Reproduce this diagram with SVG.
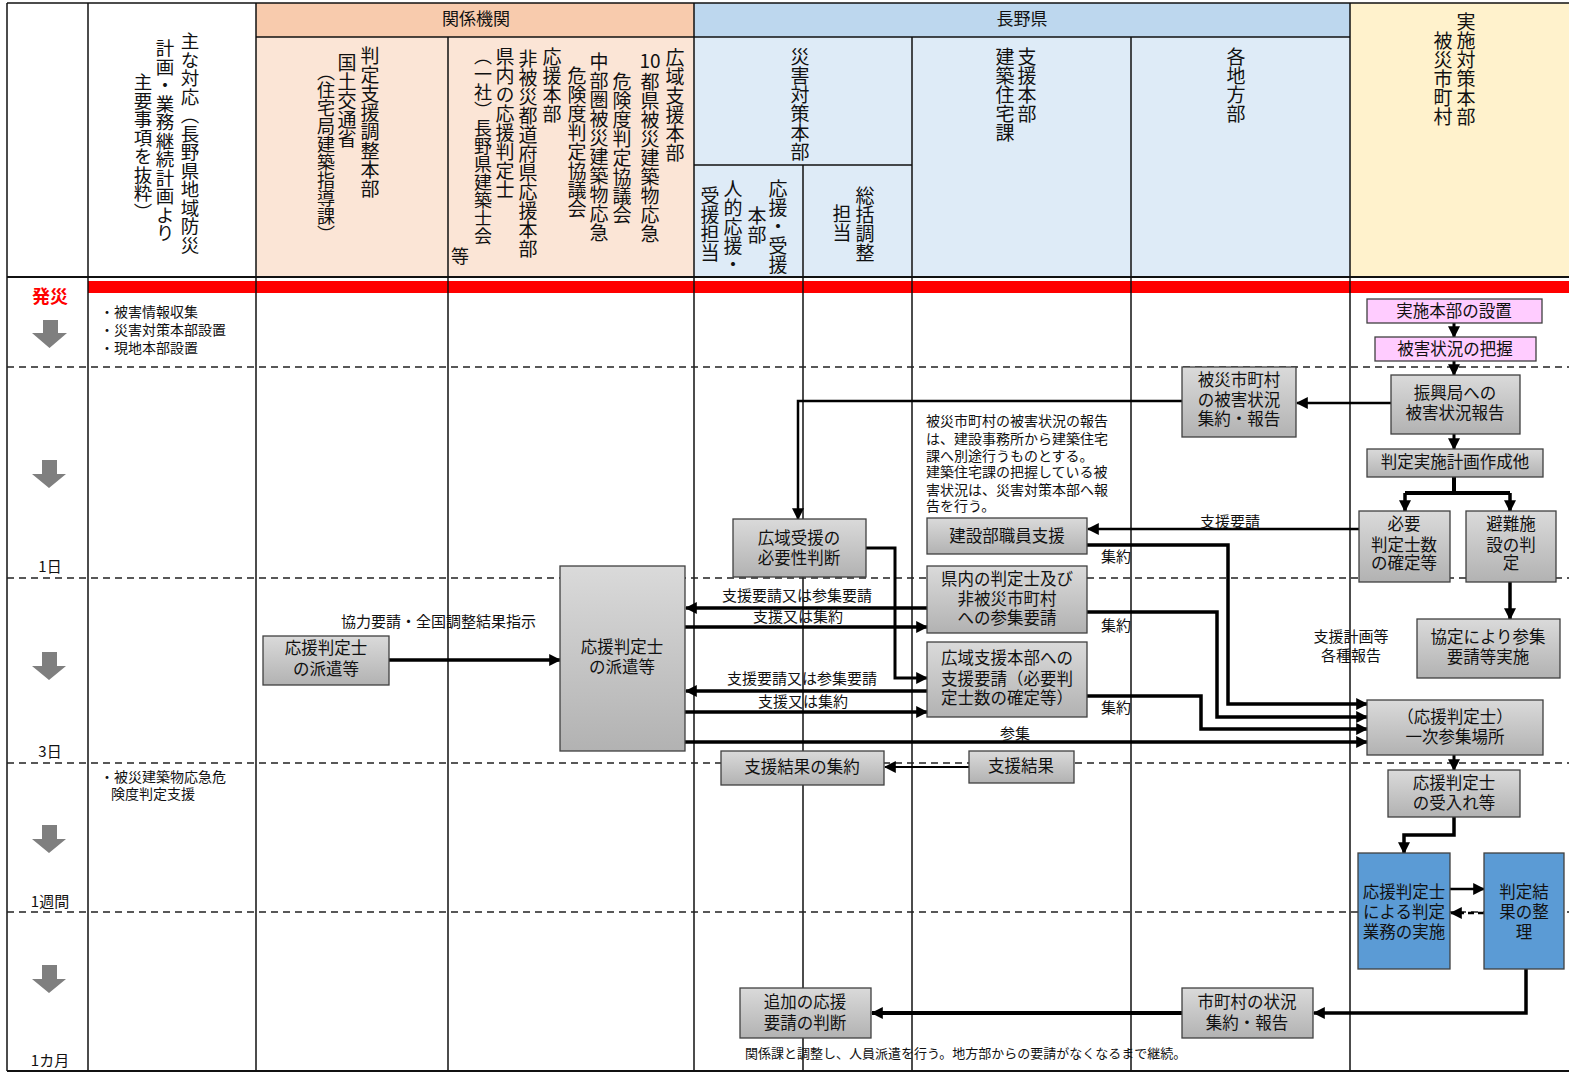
<svg xmlns="http://www.w3.org/2000/svg" width="1569" height="1073" viewBox="0 0 1569 1073">
<defs>
<linearGradient id="gray" x1="0" y1="0" x2="0" y2="1">
<stop offset="0" stop-color="#dadada"/>
<stop offset="1" stop-color="#b2b2b2"/>
</linearGradient>
<marker id="ah" markerUnits="userSpaceOnUse" markerWidth="12" markerHeight="12" viewBox="0 0 10 10" refX="9" refY="5" orient="auto">
<path d="M0,0 L10,5 L0,10 z" fill="#000"/>
</marker>
<marker id="dn" markerUnits="userSpaceOnUse" markerWidth="1" markerHeight="1" viewBox="0 0 1 1" refX="0" refY="0"><path d="M0,0"/></marker>
<style>
text{font-family:"Noto Sans CJK JP","Noto Sans",sans-serif;fill:#111}
.v{writing-mode:vertical-rl;font-size:19px}
.hd{font-size:17px;text-anchor:middle}
.bx{fill:url(#gray);stroke:#404040;stroke-width:1.3}
.pk{fill:#ffccff;stroke:#404040;stroke-width:1.3}
.bl{fill:#5b9bd5;stroke:#404040;stroke-width:1.3}
.nt{font-size:16.5px;text-anchor:middle}
.lb{font-size:15px}
.sm{font-size:14px}
.gl{stroke:#111;stroke-width:1.5}
.dl{stroke:#222;stroke-width:1.5;stroke-dasharray:7 5}
.c{fill:none;stroke:#000;stroke-width:3.5}
.a{marker-end:url(#ah)}
.tg{fill:#7f7f7f}
</style>
</defs>

<!-- background and header cells -->
<rect x="0" y="0" width="1569" height="1073" fill="#fff"/>
<g id="header-fills">
<rect x="256" y="3" width="438" height="34" fill="#f8cbad"/>
<rect x="256" y="37" width="438" height="240" fill="#fbe5d6"/>
<rect x="694" y="3" width="656" height="34" fill="#bdd7ee"/>
<rect x="694" y="37" width="656" height="240" fill="#deebf7"/>
<rect x="1350" y="3" width="219" height="274" fill="#fff2cc"/>
</g>

<!-- red band marking the disaster onset -->
<rect x="88" y="281" width="1481" height="12" fill="#ff0000"/>

<!-- grid -->
<g id="grid">
<line class="gl" x1="7" y1="3" x2="1569" y2="3"/>
<line class="gl" x1="256" y1="37" x2="1350" y2="37"/>
<line class="gl" x1="694" y1="165" x2="912" y2="165"/>
<line x1="7" y1="277" x2="1569" y2="277" stroke="#111" stroke-width="2.2"/>
<line x1="7" y1="1071" x2="1569" y2="1071" stroke="#111" stroke-width="2.2"/>
<line class="gl" x1="7" y1="3" x2="7" y2="1071"/>
<line class="gl" x1="88" y1="3" x2="88" y2="1071"/>
<line class="gl" x1="256" y1="3" x2="256" y2="1071"/>
<line class="gl" x1="448" y1="37" x2="448" y2="1071"/>
<line class="gl" x1="694" y1="3" x2="694" y2="1071"/>
<line class="gl" x1="803" y1="165" x2="803" y2="1071"/>
<line class="gl" x1="912" y1="37" x2="912" y2="1071"/>
<line class="gl" x1="1131" y1="37" x2="1131" y2="1071"/>
<line class="gl" x1="1350" y1="3" x2="1350" y2="1071"/>
<line class="dl" x1="7" y1="367" x2="1569" y2="367"/>
<line class="dl" x1="7" y1="578" x2="1569" y2="578"/>
<line class="dl" x1="7" y1="763" x2="1569" y2="763"/>
<line class="dl" x1="7" y1="912" x2="1569" y2="912"/>
</g>

<!-- header labels -->
<g id="header-text">
<text class="hd" x="476" y="25">関係機関</text>
<text class="hd" x="1022" y="25">長野県</text>
<text class="v" x="190" y="32" style="font-size:18.5px">主な対応（長野県地域防災</text>
<text class="v" x="165" y="39" style="font-size:18.5px">計画・業務継続計画より</text>
<text class="v" x="143" y="73" style="font-size:18.5px">主要事項を抜粋）</text>
<text class="v" x="370" y="46">判定支援調整本部</text>
<text class="v" x="347" y="53">国土交通省</text>
<text class="v" x="326" y="63" style="font-size:18px">（住宅局建築指導課）</text>
<text class="v" x="675" y="48">広域支援本部</text>
<text x="650" y="68" style="font-size:19px;text-anchor:middle">10</text>
<text class="v" x="650" y="72">都県被災建築物応急</text>
<text class="v" x="622" y="72">危険度判定協議会</text>
<text class="v" x="599" y="52">中部圏被災建築物応急</text>
<text class="v" x="577" y="66">危険度判定協議会</text>
<text class="v" x="552" y="47">応援本部</text>
<text class="v" x="528" y="49">非被災都道府県応援本部</text>
<text class="v" x="505" y="47">県内の応援判定士</text>
<text class="v" x="483" y="47" style="font-size:18px">（一社）長野県建築士会</text>
<text x="460" y="263" style="font-size:18px;text-anchor:middle">等</text>
<text class="v" x="800" y="47">災害対策本部</text>
<text class="v" x="778" y="179">応援・受援</text>
<text class="v" x="757" y="206">本部</text>
<text class="v" x="733" y="179">人的応援・</text>
<text class="v" x="710" y="186">受援担当</text>
<text class="v" x="865" y="186">総括調整</text>
<text class="v" x="842" y="204">担当</text>
<text class="v" x="1027" y="47">支援本部</text>
<text class="v" x="1005" y="47">建築住宅課</text>
<text class="v" x="1236" y="47">各地方部</text>
<text class="v" x="1466" y="12">実施対策本部</text>
<text class="v" x="1443" y="31">被災市町村</text>
</g>

<!-- time axis -->
<g id="timeline">
<text x="50" y="303" style="font-size:18px;font-weight:bold;fill:#ff0000;text-anchor:middle">発災</text>
<path class="tg" d="M43,320 H58 V333 H67 L49.5,348 L32,333 H43 Z"/>
<path class="tg" d="M42,460 H57 V474 H66 L49,488 L32,474 H42 Z"/>
<path class="tg" d="M42,652 H57 V666 H66 L49,680 L32,666 H42 Z"/>
<path class="tg" d="M42,825 H57 V839 H66 L49,853 L32,839 H42 Z"/>
<path class="tg" d="M42,965 H57 V979 H66 L49,993 L32,979 H42 Z"/>
<text class="lb" x="50" y="572" text-anchor="middle">1日</text>
<text class="lb" x="50" y="757" text-anchor="middle">3日</text>
<text class="lb" x="50" y="907" text-anchor="middle">1週間</text>
<text class="lb" x="50" y="1066" text-anchor="middle">1カ月</text>
</g>

<!-- main tasks column -->
<g id="main-tasks">
<text class="sm" x="100" y="317">・被害情報収集</text>
<text class="sm" x="100" y="335">・災害対策本部設置</text>
<text class="sm" x="100" y="353">・現地本部設置</text>
<text class="sm" x="100" y="782">・被災建築物応急危</text>
<text class="sm" x="111" y="799">険度判定支援</text>
</g>

<!-- connectors -->
<g id="connectors">
<path class="c a" d="M1454,323 V337" style="stroke-width:3"/>
<path class="c a" d="M1454,361 V375" style="stroke-width:3"/>
<path class="c a" d="M1391,403 H1297" style="stroke-width:2.5"/>
<path class="c a" d="M1182,401 H798 V519" style="stroke-width:2.5"/>
<path class="c a" d="M1454,434 V449" style="stroke-width:3"/>
<path class="c" d="M1454,477 V493 M1405,493 H1510" style="stroke-width:4"/>
<path class="c a" d="M1405,493 V511" style="stroke-width:3.5"/>
<path class="c a" d="M1510,493 V511" style="stroke-width:3.5"/>
<path class="c a" d="M1359,529 H1088" style="stroke-width:2.5"/>
<path class="c a" d="M1510,582 V619"/>
<path class="c a" d="M1087,545 H1228 V704 H1367"/>
<path class="c a" d="M1087,612 H1217 V717 H1367"/>
<path class="c a" d="M1087,696 H1201 V729 H1367"/>
<path class="c a" d="M685,742 H1367"/>
<path class="c a" d="M927,608 H686"/>
<path class="c a" d="M685,627 H927"/>
<path class="c a" d="M927,691 H686"/>
<path class="c a" d="M685,712 H927"/>
<path class="c a" d="M866,548 H895 V678 H927" style="stroke-width:3"/>
<path class="c a" d="M969,767 H885" style="stroke-width:2"/>
<path class="c a" d="M389,660 H560"/>
<path class="c a" d="M1454,755 V770" style="stroke-width:3"/>
<path class="c a" d="M1454,817 V835 H1404 V853"/>
<path class="c a" d="M1450,889 H1484" style="stroke-width:2.5"/>
<path class="c a" d="M1484,913 H1451" style="stroke-width:2.5;stroke-dasharray:6 4"/>
<path class="c a" d="M1526,969 V1013 H1314"/>
<path class="c a" d="M1182,1013 H872" style="stroke-width:4"/>
</g>

<!-- connector labels and notes -->
<g id="labels">
<text class="lb" x="341" y="627">協力要請・全国調整結果指示</text>
<text class="lb" x="722" y="601">支援要請又は参集要請</text>
<text class="lb" x="753" y="622">支援又は集約</text>
<text class="lb" x="727" y="684">支援要請又は参集要請</text>
<text class="lb" x="758" y="707">支援又は集約</text>
<text class="lb" x="1000" y="739">参集</text>
<text class="lb" x="1101" y="562">集約</text>
<text class="lb" x="1101" y="631">集約</text>
<text class="lb" x="1101" y="713">集約</text>
<text class="lb" x="1200" y="527">支援要請</text>
<text class="lb" x="1351" y="642" text-anchor="middle">支援計画等</text>
<text class="lb" x="1351" y="661" text-anchor="middle">各種報告</text>
<g class="sm">
<text class="sm" x="926" y="426">被災市町村の被害状況の報告</text>
<text class="sm" x="926" y="444">は、建設事務所から建築住宅</text>
<text class="sm" x="926" y="461">課へ別途行うものとする。</text>
<text class="sm" x="926" y="477">建築住宅課の把握している被</text>
<text class="sm" x="926" y="495">害状況は、災害対策本部へ報</text>
<text class="sm" x="926" y="511">告を行う。</text>
</g>
<text x="745" y="1058" style="font-size:13px">関係課と調整し、人員派遣を行う。地方部からの要請がなくなるまで継続。</text>
</g>

<!-- nodes -->
<g id="n-setup"><rect class="pk" x="1367" y="299" width="175" height="24"/><text class="nt" x="1454" y="317">実施本部の設置</text></g>
<g id="n-grasp"><rect class="pk" x="1375" y="337" width="161" height="24"/><text class="nt" x="1455" y="355">被害状況の把握</text></g>
<g id="n-report-office"><rect class="bx" x="1391" y="375" width="129" height="59"/><text class="nt" x="1455" y="399">振興局への</text><text class="nt" x="1455" y="419">被害状況報告</text></g>
<g id="n-collect-damage"><rect class="bx" x="1182" y="367" width="114" height="70"/><text class="nt" x="1239" y="386">被災市町村</text><text class="nt" x="1239" y="406">の被害状況</text><text class="nt" x="1239" y="425">集約・報告</text></g>
<g id="n-plan"><rect class="bx" x="1367" y="449" width="176" height="28"/><text class="nt" x="1455" y="468">判定実施計画作成他</text></g>
<g id="n-count"><rect class="bx" x="1359" y="511" width="91" height="71"/><text class="nt" x="1404" y="530">必要</text><text class="nt" x="1404" y="551">判定士数</text><text class="nt" x="1404" y="569">の確定等</text></g>
<g id="n-shelter"><rect class="bx" x="1466" y="511" width="90" height="71"/><text class="nt" x="1511" y="530">避難施</text><text class="nt" x="1511" y="551">設の判</text><text class="nt" x="1511" y="569">定</text></g>
<g id="n-agreement"><rect class="bx" x="1417" y="619" width="143" height="59"/><text class="nt" x="1488" y="643">協定により参集</text><text class="nt" x="1488" y="663">要請等実施</text></g>
<g id="n-assembly"><rect class="bx" x="1367" y="700" width="176" height="55"/><text class="nt" x="1455" y="723">（応援判定士）</text><text class="nt" x="1455" y="743">一次参集場所</text></g>
<g id="n-receive"><rect class="bx" x="1388" y="770" width="132" height="47"/><text class="nt" x="1454" y="789">応援判定士</text><text class="nt" x="1454" y="809">の受入れ等</text></g>
<g id="n-inspect"><rect class="bl" x="1358" y="853" width="92" height="116"/><text class="nt" x="1404" y="898">応援判定士</text><text class="nt" x="1404" y="918">による判定</text><text class="nt" x="1404" y="938">業務の実施</text></g>
<g id="n-results"><rect class="bl" x="1484" y="853" width="80" height="116"/><text class="nt" x="1524" y="898">判定結</text><text class="nt" x="1524" y="918">果の整</text><text class="nt" x="1524" y="938">理</text></g>
<g id="n-status"><rect class="bx" x="1182" y="988" width="131" height="50"/><text class="nt" x="1247" y="1008">市町村の状況</text><text class="nt" x="1247" y="1029">集約・報告</text></g>
<g id="n-additional"><rect class="bx" x="740" y="988" width="131" height="50"/><text class="nt" x="805" y="1008">追加の応援</text><text class="nt" x="805" y="1029">要請の判断</text></g>
<g id="n-wide-need"><rect class="bx" x="733" y="519" width="133" height="58"/><text class="nt" x="799" y="544">広域受援の</text><text class="nt" x="799" y="564">必要性判断</text></g>
<g id="n-staff"><rect class="bx" x="927" y="518" width="160" height="36"/><text class="nt" x="1007" y="542">建設部職員支援</text></g>
<g id="n-call"><rect class="bx" x="927" y="566" width="160" height="67"/><text class="nt" x="1007" y="585">県内の判定士及び</text><text class="nt" x="1007" y="605">非被災市町村</text><text class="nt" x="1007" y="624">への参集要請</text></g>
<g id="n-wide-request"><rect class="bx" x="927" y="642" width="160" height="75"/><text class="nt" x="1007" y="664">広域支援本部への</text><text class="nt" x="1007" y="685">支援要請（必要判</text><text class="nt" x="1007" y="704">定士数の確定等）</text></g>
<g id="n-result-collect"><rect class="bx" x="721" y="751" width="163" height="34"/><text class="nt" x="802" y="773">支援結果の集約</text></g>
<g id="n-result"><rect class="bx" x="969" y="751" width="105" height="32"/><text class="nt" x="1021" y="772">支援結果</text></g>
<g id="n-dispatch"><rect class="bx" x="560" y="566" width="125" height="185"/><text class="nt" x="622" y="653">応援判定士</text><text class="nt" x="622" y="673">の派遣等</text></g>
<g id="n-dispatch-mlit"><rect class="bx" x="263" y="636" width="126" height="49"/><text class="nt" x="326" y="654">応援判定士</text><text class="nt" x="326" y="675">の派遣等</text></g>
</svg>
